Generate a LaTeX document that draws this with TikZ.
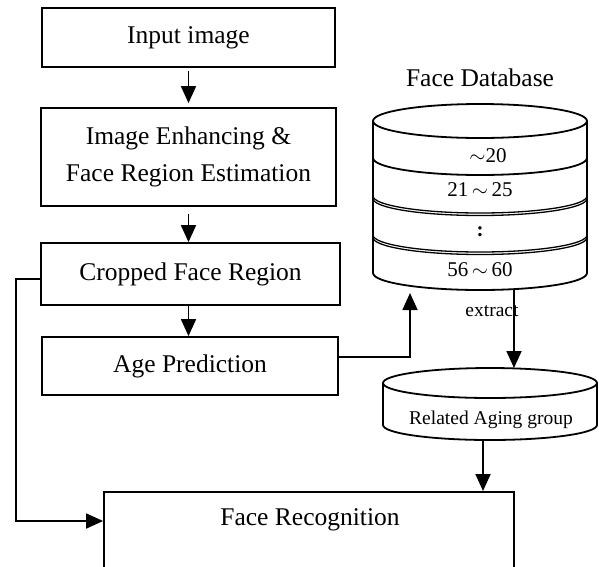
\documentclass[tikz,border=0pt]{standalone}
\usepackage{fontspec}
\setmainfont{Liberation Serif}
\usetikzlibrary{arrows.meta}
\tikzset{
    box/.style={draw, line width=1.8pt, rectangle, align=center,
        font=\fontsize{25.5}{37}\selectfont},
    arr/.style={line width=1.8pt, -{Triangle[length=17pt, width=15pt]}},
    band/.style={line width=1.8pt},
    dbtext/.style={font=\fontsize{21}{24}\selectfont},
    small/.style={font=\fontsize{19.5}{24}\selectfont}
}

\begin{document}
\begin{tikzpicture}[x=1pt, y=-1pt]

\useasboundingbox (0,0) rectangle (599,566);
\clip (0,0) rectangle (599,566);

% Cajas del flujo principal
\node[box, minimum width=293pt, minimum height=59pt] (input) at (188.5,37.5) {Input image};
\node[box, minimum width=295pt, minimum height=98pt] (enh) at (188.5,157) {Image Enhancing \&\\Face Region Estimation};
\node[box, minimum width=299pt, minimum height=62pt] (crop) at (190.5,274) {Cropped Face Region};
\node[box, minimum width=296pt, minimum height=58pt] (age) at (190,366) {Age Prediction};
\node[box, minimum width=410pt, minimum height=150pt, anchor=north] (fr) at (309,491) {};
\node[font=\fontsize{25.5}{37}\selectfont] (frtext) at (310,520) {Face Recognition};

% Base de datos de caras
\node[font=\fontsize{25.5}{30}\selectfont] (dbname) at (480,78) {Face Database};
\draw[band] (480,121) ellipse [x radius=107, y radius=17];
\draw[band] (373,121) -- (373,273) arc[start angle=180, end angle=0, x radius=107, y radius=17] -- (587,121);
\draw[band] (373,158) arc[start angle=180, end angle=0, x radius=107, y radius=17];
\foreach \y in {196,235} {
    \draw[line width=1.3pt] (373,\y) arc[start angle=180, end angle=0, x radius=107, y radius=17];
    \draw[line width=1.3pt] (373,\y+2.5) arc[start angle=180, end angle=0, x radius=107, y radius=17];
}
\node[dbtext] (g1) at (488,156) {$\sim$20};
\node[dbtext] (g2) at (480,190) {21\,$\sim$\,25};
\node[dbtext] (g3) at (480,232) {\textbf{:}};
\node[dbtext] (g4) at (480,270) {56\,$\sim$\,60};
\coordinate (dbin) at (410,293);
\coordinate (dbout) at (514,290);

% Grupo de edad relacionado
\draw[band] (490,383) ellipse [x radius=107, y radius=15];
\draw[band] (383,383) -- (383,425) arc[start angle=180, end angle=0, x radius=107, y radius=15] -- (597,383);
\node[small] (rel) at (491,420) {Related Aging group};
\coordinate (relin) at (514,368);
\coordinate (relout) at (483,440);
\node[small] (ext) at (492,311) {extract};

% Flechas
\draw[arr, shorten <=3pt, shorten >=4pt] (input.south) -- (enh.north);
\draw[arr, shorten <=7pt] (enh.south -| input.south) -- (crop.north -| input.south);
\draw[arr] (crop.south -| input.south) -- (age.north -| input.south);
\draw[arr] ([yshift=9pt]age.east) -| (dbin);
\draw[arr] (dbout) -- (relin);
\draw[arr] (relout) -- (relout |- fr.north);
\draw[arr] ([yshift=-5pt]crop.west) -- ++(-24,0) |- ([yshift=-30pt]fr.north west);

\end{tikzpicture}
\end{document}
